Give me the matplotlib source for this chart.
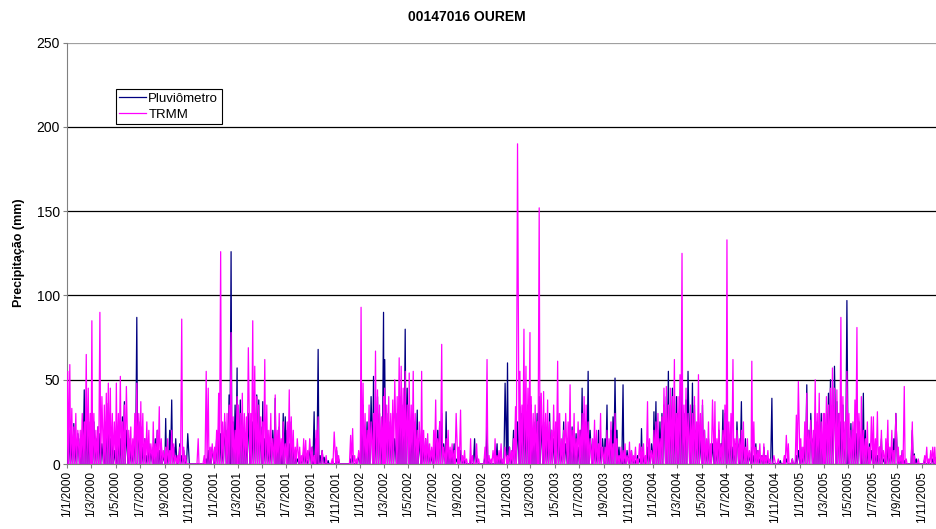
#!/usr/bin/env python3
"""
Precipitação diária 2000-2005 - estação 00147016 OUREM
Pluviômetro x TRMM
"""

import pandas as pd
import matplotlib
matplotlib.use('Agg')
import matplotlib.pyplot as plt

plt.rcParams['font.family'] = ['Liberation Sans', 'DejaVu Sans']

TITLE = '00147016 OUREM'
Y_LABEL = 'Precipitação (mm)'
SERIES_NAMES = ['Pluviômetro', 'TRMM']
YEARS = [2000, 2001, 2002, 2003, 2004, 2005]
# dias de chuva (6 por mês); os dias entre eles são secos (0 mm)
READ_DAYS = [3, 8, 13, 18, 23, 28]
DRY_DAYS = [1, 5, 10, 15, 20, 25]

# valores em mm, 6 por mês (jan..dez)
pluv_2000 = [30, 20, 15, 24, 12, 18,  15, 20, 44, 27, 18, 25,  20, 25, 15, 22, 18, 12,
             10, 25, 36, 15, 20, 8,   10, 20, 15, 28, 37, 20,  15, 10, 8, 20, 87, 25,
             22, 10, 15, 5, 12, 8,    10, 15, 20, 8, 12, 5,    27, 5, 20, 38, 10, 15,
             0, 12, 5, 8, 3, 18,      0, 0, 0, 0, 0, 0,        0, 0, 3, 8, 5, 10]
trmm_2000 = [55, 59, 33, 22, 30, 20,  20, 30, 25, 65, 45, 30,  85, 30, 20, 22, 90, 40,
             35, 42, 48, 45, 30, 25,  48, 30, 52, 25, 35, 46,  20, 22, 15, 30, 48, 30,
             37, 30, 15, 25, 20, 12,  25, 12, 20, 34, 15, 8,   10, 15, 8, 20, 12, 5,
             5, 10, 86, 10, 5, 0,     0, 0, 0, 0, 15, 0,       0, 5, 55, 45, 10, 12]

pluv_2001 = [5, 15, 22, 18, 10, 25,   20, 41, 126, 25, 35, 57,  25, 38, 30, 20, 15, 30,
             20, 25, 30, 41, 38, 22,  37, 15, 20, 10, 12, 20,   39, 15, 22, 10, 30, 28,
             20, 12, 25, 10, 5, 3,    5, 3, 8, 5, 2, 10,        10, 31, 15, 68, 5, 8,
             4, 0, 2, 0, 0, 0,        8, 3, 0, 0, 0, 0,         0, 3, 5, 0, 2, 5]
trmm_2001 = [10, 20, 42, 126, 25, 30,  30, 35, 78, 28, 20, 40,  35, 30, 42, 30, 28, 69,
             30, 85, 58, 40, 35, 28,   25, 62, 35, 20, 30, 15,  41, 20, 30, 15, 25, 12,
             25, 44, 28, 20, 10, 15,   10, 5, 15, 14, 8, 15,    10, 5, 20, 28, 0, 8,
             0, 5, 0, 0, 3, 19,        10, 5, 0, 0, 0, 0,       0, 17, 21, 5, 3, 8]

pluv_2002 = [20, 35, 15, 25, 20, 40,  52, 25, 40, 30, 20, 90,  62, 30, 25, 20, 30, 15,
             30, 25, 40, 35, 80, 45,  35, 20, 30, 25, 32, 15,  20, 10, 15, 12, 8, 5,
             10, 15, 20, 25, 30, 12,  31, 10, 8, 5, 12, 3,     5, 8, 3, 2, 0, 0,
             3, 0, 15, 5, 0, 0,       0, 5, 22, 3, 0, 0,       0, 12, 5, 3, 2, 48]
trmm_2002 = [93, 48, 30, 20, 35, 25,  30, 67, 44, 35, 28, 40,  45, 35, 40, 30, 38, 50,
             40, 63, 58, 45, 55, 35,  54, 35, 55, 30, 20, 25,  55, 20, 15, 18, 12, 10,
             20, 38, 15, 25, 71, 10,  15, 20, 10, 12, 8, 30,   10, 32, 5, 8, 3, 0,
             15, 5, 0, 12, 3, 0,      0, 10, 62, 5, 3, 8,      15, 5, 8, 12, 3, 10]

pluv_2003 = [60, 10, 5, 20, 15, 25,   34, 30, 40, 25, 35, 38,  35, 20, 25, 30, 40, 25,
             25, 22, 18, 30, 20, 15,  20, 30, 15, 10, 25, 12,  15, 20, 22, 12, 18, 10,
             20, 45, 30, 25, 55, 20,  12, 15, 8, 20, 10, 15,   15, 35, 10, 20, 28, 51,
             20, 10, 5, 47, 3, 8,     5, 8, 3, 2, 5, 3,        21, 5, 3, 10, 8, 12]
trmm_2003 = [5, 10, 8, 15, 34, 190,   55, 35, 80, 58, 45, 78,  40, 30, 35, 25, 152, 42,
             43, 30, 38, 25, 20, 35,  25, 61, 30, 15, 20, 30,  25, 47, 20, 30, 15, 25,
             20, 30, 40, 35, 25, 15,  15, 26, 20, 12, 30, 10,  10, 20, 15, 25, 12, 30,
             15, 5, 10, 8, 12, 5,     13, 8, 5, 10, 3, 12,     10, 12, 5, 37, 15, 8]

pluv_2004 = [31, 37, 20, 25, 30, 35,  40, 55, 35, 45, 30, 40,  30, 40, 45, 30, 38, 55,
             30, 48, 35, 20, 25, 15,  35, 20, 10, 15, 8, 12,   15, 10, 20, 12, 32, 30,
             31, 15, 20, 10, 12, 25,  12, 37, 10, 15, 8, 5,    10, 5, 12, 8, 3, 5,
             10, 5, 3, 0, 39, 0,      0, 0, 2, 0, 0, 3,        0, 0, 3, 0, 5, 8]
trmm_2004 = [20, 25, 30, 15, 28, 45,  46, 35, 45, 40, 62, 30,  40, 53, 125, 35, 45, 30,
             35, 30, 40, 25, 53, 30,  38, 20, 15, 25, 12, 38,  37, 15, 25, 12, 20, 35,
             133, 25, 30, 62, 15, 20,  15, 20, 25, 10, 15, 8,  61, 25, 10, 8, 12, 5,
             12, 5, 8, 3, 0, 5,       0, 3, 0, 0, 5, 17,       12, 0, 3, 0, 29, 49]

pluv_2005 = [10, 5, 12, 47, 20, 30,  15, 30, 25, 20, 30, 15,  25, 30, 42, 50, 35, 58,
             37, 30, 25, 35, 20, 97,  15, 24, 20, 15, 18, 25,  15, 42, 20, 10, 12, 8,
             12, 8, 5, 10, 15, 3,     5, 12, 8, 10, 15, 30,    5, 3, 8, 2, 0, 0,
             0, 20, 6, 3, 0, 0,       0, 3, 0, 2, 0, 3,        0, 0, 0, 0, 0, 0]
trmm_2005 = [15, 10, 25, 42, 20, 26,  20, 50, 30, 42, 25, 30,  30, 40, 35, 45, 57, 45,
             44, 30, 87, 40, 25, 55,  30, 20, 25, 38, 81, 30,  40, 20, 15, 25, 10, 28,
             28, 15, 31, 10, 20, 8,   15, 26, 10, 20, 8, 30,   10, 5, 8, 46, 3, 0,
             0, 25, 5, 0, 3, 0,       0, 5, 10, 3, 8, 10,      10, 5, 0, 0, 0, 0]

Y_TICKS = [0, 50, 100, 150, 200, 250]


def build_series(yearly_lists):
    """Junta as listas anuais em uma série diária (dias secos = 0)"""
    dates = []
    values = []
    for year, vals in zip(YEARS, yearly_lists):
        i = 0
        for month in range(1, 13):
            for dry, day in zip(DRY_DAYS, READ_DAYS):
                dates.append(pd.Timestamp(year, month, dry))
                values.append(0)
                dates.append(pd.Timestamp(year, month, day))
                values.append(vals[i])
                i += 1
    return pd.Series(values, index=dates)


def main():
    pluv = build_series([pluv_2000, pluv_2001, pluv_2002, pluv_2003, pluv_2004, pluv_2005])
    trmm = build_series([trmm_2000, trmm_2001, trmm_2002, trmm_2003, trmm_2004, trmm_2005])

    fig = plt.figure(figsize=(9.36, 5.29), dpi=100)
    # o eixo continua além da borda direita da imagem (igual ao original)
    ax = fig.add_axes([67 / 936, 1 - 464 / 529, 879 / 936, (464 - 42.7) / 529])

    ax.plot(pluv.index, pluv.values, color='#000080', lw=0.9, label=SERIES_NAMES[0], zorder=3)
    ax.plot(trmm.index, trmm.values, color='#FF00FF', lw=0.9, label=SERIES_NAMES[1], zorder=4)

    ax.set_xlim(pd.Timestamp(2000, 1, 1), pd.Timestamp(2005, 12, 31))
    ax.set_ylim(0, 250)

    ticks = pd.date_range('2000-01-01', '2005-11-01', freq='2MS')
    ax.set_xticks(ticks)
    ax.set_xticklabels([f'{d.day}/{d.month}/{d.year}' for d in ticks],
                       rotation=90, fontsize=8.5)
    ax.set_yticks(Y_TICKS)
    ax.set_yticklabels([str(v) for v in Y_TICKS], fontsize=10)
    ax.tick_params(axis='both', direction='out', length=3, width=0.8, color='#808080', pad=2)

    ax.grid(axis='y', color='black', linewidth=0.9, zorder=1)
    ax.set_axisbelow(True)
    gl = ax.get_ygridlines()
    gl[-1].set_color('#A0A0A0')

    for side in ['top', 'right']:
        ax.spines[side].set_visible(False)
    ax.spines['left'].set_color('#808080')
    ax.spines['bottom'].set_color('#808080')

    fig.text(19 / 936, 1 - 253 / 529, Y_LABEL, rotation=90, fontsize=9,
             fontweight='bold', ha='center', va='center')
    fig.text(467 / 936, 1 - 17 / 529, TITLE, fontsize=10, fontweight='bold',
             ha='center', va='center')

    leg = ax.legend(loc='upper left', bbox_to_anchor=(116 / 936, 1 - 89 / 529),
                    bbox_transform=fig.transFigure, fontsize=9.5, frameon=True,
                    fancybox=False, borderaxespad=0, borderpad=0.25,
                    handlelength=2.0, handletextpad=0.2, labelspacing=0.3)
    leg.get_frame().set_edgecolor('black')
    leg.get_frame().set_linewidth(0.8)
    leg.get_frame().set_alpha(1)

    fig.savefig('out.png', dpi=100)


if __name__ == '__main__':
    main()
